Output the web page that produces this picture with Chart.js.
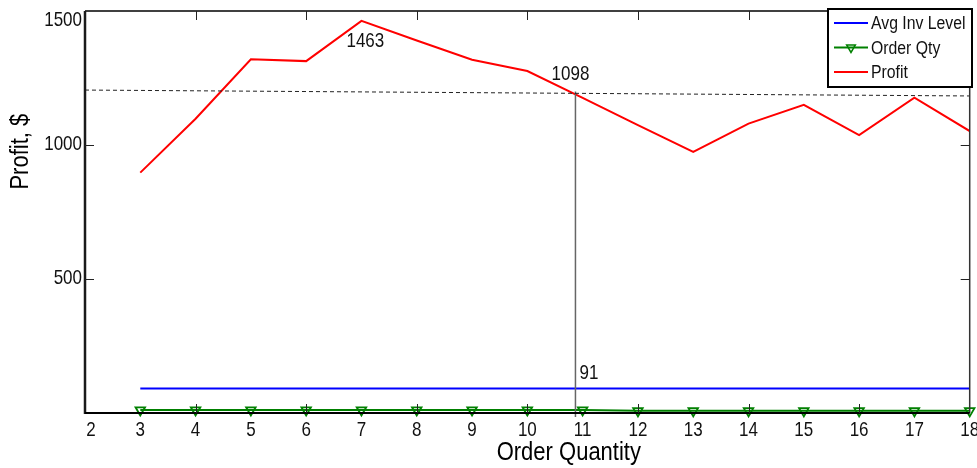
<!DOCTYPE html>
<html>
<head>
<meta charset="utf-8">
<style>
  html, body { margin: 0; padding: 0; background: #fff; }
  #wrap { width: 977px; height: 468px; position: relative; }
</style>
<script src="https://cdn.jsdelivr.net/npm/chart.js@4.4.1/dist/chart.umd.min.js"></script>
</head>
<body>
<div id="wrap"><canvas id="c" width="977" height="468"></canvas></div>
<script>
// Order quantities on the x axis and the three plotted series
const orderQuantity = [3, 4, 5, 6, 7, 8, 9, 10, 11, 12, 13, 14, 15, 16, 17, 18];
const profit        = [897, 1098, 1320, 1313, 1463, 1390, 1318, 1276, 1176, 1074, 974, 1080, 1150, 1037, 1177, 1052];
const avgInvLevel   = [91, 91, 91, 91, 91, 91, 91, 91, 91, 91, 91, 91, 91, 91, 91, 91];
const orderQty      = [11, 11, 11, 11, 11, 11, 11, 11, 11, 8, 8, 8, 8, 8, 8, 8];

// Reference lines: dashed profit level and the cursor line
const levelX  = [2, 18];
const levelY  = [1205, 1183];
const cursorX = [10.87, 10.87];
const cursorY = [1200, -15];

// Axis ticks
const xTickLabels = [2, 3, 4, 5, 6, 7, 8, 9, 10, 11, 12, 13, 14, 15, 16, 17, 18];
const xTickMarks  = [4, 6, 8, 10, 12, 14, 16];
const yTickLabels = [500, 1000, 1500];
const yTickMarks  = [500, 1000];

const FONT = '"Liberation Sans", Arial, Helvetica, sans-serif';
const STRETCH = 1.15; // tall, narrow lettering

const pts = (xs, ys) => xs.map((x, i) => ({ x: x, y: ys[i] }));

const peakProfit = Math.max(...profit);
const fourProfit = profit[orderQuantity.indexOf(4)];

// text drawn with a slight vertical stretch
function tallText(ctx, s, x, y, angle) {
  ctx.save();
  ctx.translate(x, y);
  if (angle) ctx.rotate(angle);
  ctx.scale(1, STRETCH);
  ctx.fillText(s, 0, 0);
  ctx.restore();
}

const frame = {
  id: 'frame',
  afterDraw(chart) {
    const ctx = chart.ctx;
    const a = chart.chartArea;
    const xs = chart.scales.x, ys = chart.scales.y;
    ctx.save();

    // box around the plot
    ctx.strokeStyle = '#000';
    ctx.lineWidth = 1.5;
    ctx.beginPath();
    ctx.moveTo(a.left, a.top); ctx.lineTo(a.right, a.top);
    ctx.stroke();
    ctx.strokeStyle = '#333';
    ctx.beginPath();
    ctx.moveTo(a.right, a.top); ctx.lineTo(a.right, a.bottom);
    ctx.stroke();
    ctx.strokeStyle = '#1a1a1a';
    ctx.lineWidth = 2.5;
    ctx.beginPath();
    ctx.moveTo(a.left, a.top); ctx.lineTo(a.left, a.bottom + 1);
    ctx.stroke();
    ctx.strokeStyle = '#000';
    ctx.lineWidth = 2;
    ctx.beginPath();
    ctx.moveTo(a.left, a.bottom); ctx.lineTo(a.right, a.bottom);
    ctx.stroke();

    // inward tick marks
    ctx.lineWidth = 1;
    ctx.strokeStyle = '#222';
    const T = 9;
    xTickMarks.forEach(v => {
      const px = Math.round(xs.getPixelForValue(v)) + 0.5;
      ctx.beginPath();
      ctx.moveTo(px, a.bottom); ctx.lineTo(px, a.bottom - T);
      ctx.moveTo(px, a.top); ctx.lineTo(px, a.top + T);
      ctx.stroke();
    });
    yTickMarks.forEach(v => {
      const py = Math.round(ys.getPixelForValue(v)) + 0.5;
      ctx.beginPath();
      ctx.moveTo(a.left, py); ctx.lineTo(a.left + T, py);
      ctx.moveTo(a.right, py); ctx.lineTo(a.right - T, py);
      ctx.stroke();
    });

    // tick labels
    ctx.fillStyle = '#111';
    ctx.font = '17px ' + FONT;
    ctx.textBaseline = 'middle';
    ctx.textAlign = 'right';
    yTickLabels.forEach(v => {
      const py = Math.max(ys.getPixelForValue(v), a.top + 10);
      tallText(ctx, String(v), a.left - 3, py);
    });
    ctx.textAlign = 'center';
    xTickLabels.forEach(v => {
      const px = Math.max(xs.getPixelForValue(v), a.left + 6);
      tallText(ctx, String(v), px, a.bottom + 18);
    });

    // axis titles
    ctx.font = '22px ' + FONT;
    ctx.fillStyle = '#000';
    tallText(ctx, 'Order Quantity', xs.getPixelForValue(10.75), a.bottom + 40);
    tallText(ctx, 'Profit, $', 21, ys.getPixelForValue(975), -Math.PI / 2);

    // value labels
    ctx.font = '17px ' + FONT;
    ctx.fillStyle = '#111';
    ctx.textAlign = 'center';
    tallText(ctx, String(peakProfit), xs.getPixelForValue(7.07), ys.getPixelForValue(peakProfit) + 21);
    tallText(ctx, String(fourProfit), xs.getPixelForValue(cursorX[0]) - 5, ys.getPixelForValue(cursorY[0]) - 17);
    ctx.textAlign = 'left';
    tallText(ctx, String(avgInvLevel[0]), xs.getPixelForValue(cursorX[0]) + 4, ys.getPixelForValue(avgInvLevel[0]) - 15);

    // legend box
    const lx = 828, ly = 9, lw = 144, lh = 78;
    ctx.fillStyle = '#fff';
    ctx.fillRect(lx, ly, lw, lh);
    ctx.strokeStyle = '#000';
    ctx.lineWidth = 2;
    ctx.strokeRect(lx, ly, lw, lh);
    const rows = chart.data.datasets.filter(d => d.inLegend);
    ctx.font = '15.8px ' + FONT;
    ctx.textAlign = 'left';
    ctx.textBaseline = 'middle';
    rows.forEach((d, i) => {
      const y = ly + 14 + i * 24.5;
      ctx.strokeStyle = d.borderColor;
      ctx.lineWidth = 2;
      ctx.beginPath();
      ctx.moveTo(lx + 6, y); ctx.lineTo(lx + 40, y);
      ctx.stroke();
      if (d.pointRadius > 0) {
        const cx = lx + 23, r = 5;
        ctx.lineWidth = 1.5;
        ctx.beginPath();
        ctx.moveTo(cx - r * 0.87, y - r * 0.5);
        ctx.lineTo(cx + r * 0.87, y - r * 0.5);
        ctx.lineTo(cx, y + r);
        ctx.closePath();
        ctx.stroke();
      }
      ctx.fillStyle = '#111';
      tallText(ctx, d.label, lx + 43, y + 1);
    });
    ctx.restore();
  }
};

new Chart(document.getElementById('c'), {
  type: 'line',
  data: {
    datasets: [
      {
        label: 'Level',
        data: pts(levelX, levelY),
        borderColor: '#222',
        borderWidth: 1,
        borderDash: [4, 3],
        pointRadius: 0,
        inLegend: false
      },
      {
        label: 'Cursor',
        data: pts(cursorX, cursorY),
        borderColor: '#666',
        borderWidth: 1.5,
        pointRadius: 0,
        clip: false,
        inLegend: false
      },
      {
        label: 'Avg Inv Level',
        data: pts(orderQuantity, avgInvLevel),
        borderColor: '#0000ff',
        borderWidth: 2,
        pointRadius: 0,
        inLegend: true
      },
      {
        label: 'Order Qty',
        data: pts(orderQuantity, orderQty),
        borderColor: '#008000',
        borderWidth: 2,
        pointStyle: 'triangle',
        rotation: 180,
        pointRadius: 5.5,
        pointBorderWidth: 1.8,
        pointBackgroundColor: 'rgba(255,255,255,0)',
        pointBorderColor: '#008000',
        clip: false,
        inLegend: true
      },
      {
        label: 'Profit',
        data: pts(orderQuantity, profit),
        borderColor: '#ff0000',
        borderWidth: 2,
        pointRadius: 0,
        inLegend: true
      }
    ]
  },
  options: {
    responsive: false,
    animation: false,
    devicePixelRatio: 1,
    layout: { padding: { top: 11, right: 5, left: 0, bottom: 0 } },
    plugins: { legend: { display: false }, tooltip: { enabled: false } },
    elements: { line: { tension: 0 } },
    scales: {
      x: {
        type: 'linear',
        min: 2, max: 18,
        grid: { display: false, drawTicks: false },
        border: { display: false },
        ticks: { display: false },
        afterFit: s => { s.height = 55; }
      },
      y: {
        min: 0, max: 1500,
        grid: { display: false, drawTicks: false },
        border: { display: false },
        ticks: { display: false },
        afterFit: s => { s.width = 85; }
      }
    }
  },
  plugins: [frame]
});
</script>
</body>
</html>
